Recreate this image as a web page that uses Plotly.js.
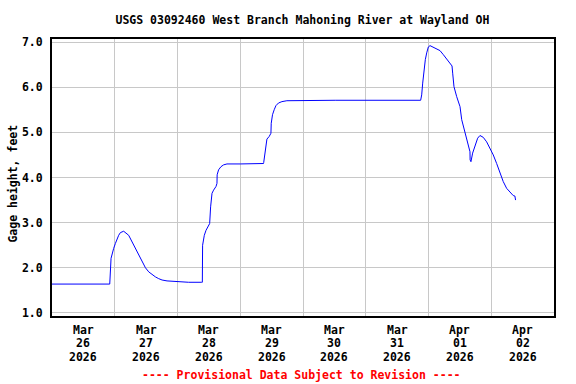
<!DOCTYPE html>
<html>
<head>
<meta charset="utf-8">
<script src="https://cdn.plot.ly/plotly-3.0.1.min.js"></script>
<style>html,body{margin:0;padding:0;background:#fff;}#chart{width:576px;height:384px;}</style>
</head>
<body>
<div id="chart"></div>
<script>
var times = [
"2026-03-26 00:00","2026-03-26 22:05","2026-03-26 22:35","2026-03-26 23:00","2026-03-26 23:35",
"2026-03-27 00:15","2026-03-27 00:55","2026-03-27 01:30","2026-03-27 02:10","2026-03-27 03:25",
"2026-03-27 05:20","2026-03-27 06:35","2026-03-27 07:54","2026-03-27 09:10","2026-03-27 10:30",
"2026-03-27 11:45","2026-03-27 13:00","2026-03-27 14:16","2026-03-27 15:32","2026-03-27 16:48",
"2026-03-27 18:06","2026-03-27 20:00","2026-03-27 21:55","2026-03-28 00:25","2026-03-28 04:15",
"2026-03-28 09:06","2026-03-28 09:30","2026-03-28 09:36","2026-03-28 10:15","2026-03-28 10:54",
"2026-03-28 11:54","2026-03-28 12:18","2026-03-28 12:40","2026-03-28 13:12","2026-03-28 13:48",
"2026-03-28 14:43","2026-03-28 15:06","2026-03-28 15:10","2026-03-28 15:43","2026-03-28 16:38",
"2026-03-28 17:38","2026-03-28 18:55","2026-03-29 00:00","2026-03-29 08:54","2026-03-29 08:58",
"2026-03-29 09:10","2026-03-29 09:33","2026-03-29 10:12","2026-03-29 11:05","2026-03-29 11:44",
"2026-03-29 11:51","2026-03-29 12:20","2026-03-29 12:59","2026-03-29 13:38","2026-03-29 14:38",
"2026-03-29 15:56","2026-03-29 17:50","2026-03-30 12:18","2026-03-31 21:00","2026-03-31 21:24",
"2026-03-31 21:47","2026-03-31 22:17","2026-03-31 22:47","2026-03-31 23:19","2026-03-31 23:56",
"2026-04-01 00:35","2026-04-01 01:37","2026-04-01 03:08","2026-04-01 04:24","2026-04-01 05:40",
"2026-04-01 06:58","2026-04-01 08:13","2026-04-01 09:00","2026-04-01 09:15","2026-04-01 09:45",
"2026-04-01 10:47","2026-04-01 12:03","2026-04-01 12:42","2026-04-01 13:34","2026-04-01 14:36",
"2026-04-01 15:13","2026-04-01 15:52","2026-04-01 15:55","2026-04-01 16:14","2026-04-01 16:53",
"2026-04-01 17:46","2026-04-01 18:48","2026-04-01 19:41","2026-04-01 20:56","2026-04-01 22:14",
"2026-04-01 23:30","2026-04-02 00:46","2026-04-02 02:04","2026-04-02 03:20","2026-04-02 04:35",
"2026-04-02 05:53","2026-04-02 07:08","2026-04-02 08:24","2026-04-02 09:02","2026-04-02 09:18"
];
var gageHeight = [
1.64,1.64,2.21,2.32,2.43,
2.54,2.65,2.72,2.78,2.81,
2.72,2.58,2.43,2.28,2.13,
2.00,1.91,1.85,1.80,1.76,
1.73,1.71,1.70,1.69,1.68,
1.68,1.68,2.50,2.72,2.83,
2.95,2.98,3.35,3.65,3.72,
3.80,3.87,4.06,4.17,4.24,
4.28,4.30,4.30,4.31,4.33,
4.43,4.61,4.85,4.91,4.98,
5.20,5.39,5.50,5.59,5.65,
5.68,5.70,5.71,5.71,5.83,
6.09,6.39,6.61,6.76,6.89,
6.92,6.89,6.86,6.81,6.72,
6.62,6.53,6.47,6.31,6.01,
5.79,5.57,5.28,5.09,4.90,
4.76,4.57,4.39,4.35,4.54,
4.72,4.87,4.93,4.89,4.79,
4.65,4.50,4.31,4.09,3.91,
3.76,3.68,3.60,3.59,3.50
];
var xTickVals = ["2026-03-26 12:00","2026-03-27 12:00","2026-03-28 12:00","2026-03-29 12:00","2026-03-30 12:00","2026-03-31 12:00","2026-04-01 12:00","2026-04-02 12:00"];
var xTickMonth = ["Mar","Mar","Mar","Mar","Mar","Mar","Apr","Apr"];
var xTickDay = ["26","27","28","29","30","31","01","02"];
var xTickYear = ["2026","2026","2026","2026","2026","2026","2026","2026"];
var xGridVals = ["2026-03-27","2026-03-28","2026-03-29","2026-03-30","2026-03-31","2026-04-01","2026-04-02"];
var yTickVals = [1,2,3,4,5,6,7];
var yTickText = ["1.0","2.0","3.0","4.0","5.0","6.0","7.0"];

var F = {family:"DejaVu Sans Mono, monospace", size:11.5, color:"#000", weight:"bold"};

var trace = {x: times, y: gageHeight, type:"scatter", mode:"lines",
  line:{color:"#0000ff", width:1}, hoverinfo:"skip"};

var annotations = [
  {text:"Gage height, feet", xref:"paper", yref:"paper", x:-0.0786, y:0.4765,
    xanchor:"center", yanchor:"middle", textangle:-90, showarrow:false, font:F},
  {text:"---- Provisional Data Subject to Revision ----", xref:"paper", yref:"paper",
    x:0.497, y:-0.2145, xanchor:"center", yanchor:"middle", showarrow:false,
    font:{family:F.family, size:11.5, color:"#ff0000", weight:"bold"}}
];
var rows = [[xTickMonth,-0.0499],[xTickDay,-0.0988],[xTickYear,-0.1476]];
rows.forEach(function(r){
  r[0].forEach(function(t,i){
    annotations.push({text:t, xref:"x", yref:"paper", x:xTickVals[i], y:r[1],
      xanchor:"center", yanchor:"middle", showarrow:false, font:F});
  });
});

var layout = {
  width:576, height:384,
  margin:{l:51.5, r:22, t:39.3, b:68.3, pad:0},
  paper_bgcolor:"#fff", plot_bgcolor:"#fff",
  showlegend:false,
  font:F,
  title:{text:"USGS 03092460 West Branch Mahoning River at Wayland OH", font:F,
    x:0.525, xanchor:"center", y:1-20/384, yanchor:"middle"},
  xaxis:{type:"date", range:["2026-03-26 00:00","2026-04-03 00:00"],
    tickmode:"array", tickvals:xTickVals, showticklabels:false,
    showgrid:false, ticks:"",
    showline:true, linecolor:"#000", linewidth:2, mirror:true,
    zeroline:false,
    minor:{tickmode:"array", tickvals:xGridVals, showgrid:true, gridcolor:"#c8c8c8", gridwidth:1, ticks:""}},
  yaxis:{range:[0.933,7.067], tickmode:"array", tickvals:yTickVals, ticktext:yTickText,
    showgrid:true, gridcolor:"#c8c8c8", gridwidth:1,
    ticks:"outside", ticklen:5, tickcolor:"rgba(0,0,0,0)",
    tickfont:F, showline:true, linecolor:"#000", linewidth:2, mirror:true, zeroline:false},
  annotations:annotations
};
Plotly.newPlot("chart", [trace], layout, {staticPlot:true, displayModeBar:false});
</script>
</body>
</html>
